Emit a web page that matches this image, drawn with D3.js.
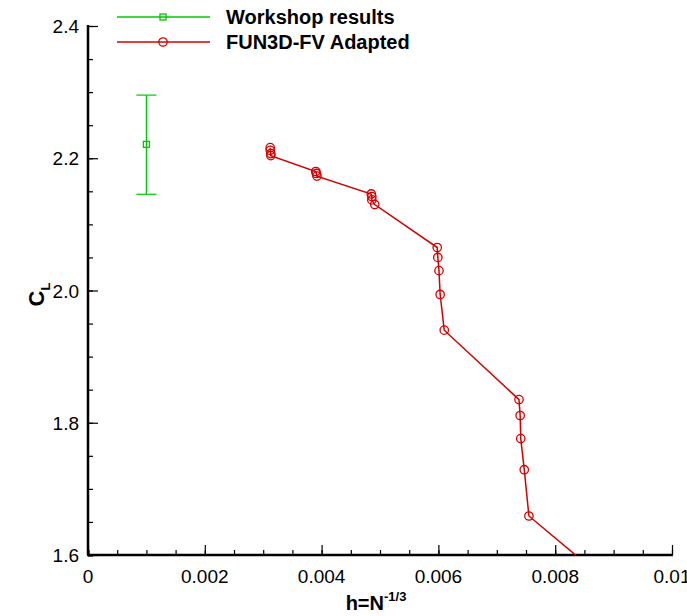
<!DOCTYPE html>
<html>
<head>
<meta charset="utf-8">
<script src="https://cdn.jsdelivr.net/npm/d3@7"></script>
<style>
	body { margin: 0; background: #fff; }
	text { font-family: "Liberation Sans", Arial, sans-serif; }
</style>
</head>
<body>
<div id="chart"></div>
<script>
//////////////////////////////
// DATA
//////////////////////////////

const adaptedH = [0.00312, 0.00312, 0.00313, 0.00313, 0.00390, 0.00391, 0.00392, 0.00485, 0.00486, 0.00486, 0.00491, 0.00598, 0.00599, 0.00601, 0.00603, 0.00610, 0.00738, 0.00740, 0.00741, 0.00747, 0.00755, 0.00970]
const adaptedCL = [2.216, 2.212, 2.207, 2.204, 2.180, 2.177, 2.173, 2.146, 2.142, 2.137, 2.130, 2.065, 2.050, 2.030, 1.994, 1.940, 1.835, 1.811, 1.776, 1.729, 1.659, 1.500]

const workshopH = [0.001]
const workshopCL = [2.221]
const workshopLow = [2.1455]
const workshopHigh = [2.2955]

const xTicks = [0, 0.002, 0.004, 0.006, 0.008, 0.01]
const xTickLabels = ["0", "0.002", "0.004", "0.006", "0.008", "0.01"]
const yTicks = [1.6, 1.8, 2.0, 2.2, 2.4]
const yTickLabels = ["1.6", "1.8", "2.0", "2.2", "2.4"]

//////////////////////////////
// CHART
//////////////////////////////

const red = "#d40000"
const green = "#00c800"

const width = 687
const height = 616
const margin = {left: 88, right: 15, top: 26, bottom: 61}

const x = d3.scaleLinear().domain([0, 0.01]).range([margin.left, width - margin.right])
const y = d3.scaleLinear().domain([1.6, 2.4]).range([height - margin.bottom, margin.top])

const svg = d3.select("#chart").append("svg").attr("width", width).attr("height", height)

svg.append("defs").append("clipPath").attr("id", "clip")
	.append("rect")
	.attr("x", margin.left).attr("y", margin.top)
	.attr("width", width - margin.left - margin.right)
	.attr("height", height - margin.top - margin.bottom)

// axes, ticks pointing inward
const xMinor = d3.range(0, 0.01 + 1e-9, 0.0005)
const yMinor = d3.range(1.6, 2.4 + 1e-9, 0.05)

const xAxis = d3.axisTop(x).tickValues(xMinor).tickSize(5).tickFormat("")
const xAxisMajor = d3.axisTop(x).tickValues(xTicks).tickSize(10).tickFormat("")
const yAxis = d3.axisRight(y).tickValues(yMinor).tickSize(5).tickFormat("")
const yAxisMajor = d3.axisRight(y).tickValues(yTicks).tickSize(10).tickFormat("")

const gx = svg.append("g").attr("transform", "translate(0," + y(1.6) + ")")
gx.call(xAxis)
gx.append("g").call(xAxisMajor)
const gy = svg.append("g").attr("transform", "translate(" + x(0) + ",0)")
gy.call(yAxis)
gy.append("g").call(yAxisMajor)

svg.selectAll(".domain").remove()
svg.selectAll(".tick line").attr("stroke", "#000").attr("stroke-width", 1.2)
gx.select("g").selectAll(".tick line").attr("stroke-width", 2.2)
gy.select("g").selectAll(".tick line").attr("stroke-width", 2.2)

svg.append("line")
	.attr("x1", x(0) - 1).attr("x2", x(0.01) + 1)
	.attr("y1", y(1.6)).attr("y2", y(1.6))
	.attr("stroke", "#000").attr("stroke-width", 2.5)
svg.append("line")
	.attr("x1", x(0)).attr("x2", x(0))
	.attr("y1", y(2.4) - 1).attr("y2", y(1.6))
	.attr("stroke", "#000").attr("stroke-width", 2.5)

// tick labels
svg.selectAll(".xlab").data(xTicks).enter().append("text")
	.attr("class", "xlab")
	.attr("x", (d) => x(d)).attr("y", y(1.6) + 28)
	.attr("text-anchor", "middle")
	.style("font-size", "19px")
	.text((d, i) => xTickLabels[i])

svg.selectAll(".ylab").data(yTicks).enter().append("text")
	.attr("class", "ylab")
	.attr("x", x(0) - 9).attr("y", (d) => y(d) + 7)
	.attr("text-anchor", "end")
	.style("font-size", "19px")
	.text((d, i) => yTickLabels[i])

// axis titles
const xt = svg.append("text")
	.attr("x", 376).attr("y", 610)
	.attr("text-anchor", "middle")
	.style("font-size", "20px").style("font-weight", "bold")
xt.append("tspan").text("h=N")
xt.append("tspan").attr("dy", -9).style("font-size", "13px").text("-1/3")

const yt = svg.append("text")
	.attr("transform", "translate(44," + (y(2.0) + 4) + ") rotate(-90)")
	.attr("text-anchor", "middle")
	.style("font-size", "22px").style("font-weight", "bold")
yt.append("tspan").text("C")
yt.append("tspan").attr("dy", 6).style("font-size", "13px").text("L")

// adapted series
const pts = adaptedH.map((h, i) => ({h: h, cl: adaptedCL[i]}))
const plot = svg.append("g").attr("clip-path", "url(#clip)")

plot.append("path")
	.datum(pts)
	.attr("d", d3.line().x((d) => x(d.h)).y((d) => y(d.cl)))
	.attr("fill", "none").attr("stroke", red).attr("stroke-width", 1.5)

plot.selectAll(".pt").data(pts).enter().append("circle")
	.attr("class", "pt")
	.attr("cx", (d) => x(d.h)).attr("cy", (d) => y(d.cl))
	.attr("r", 4.2)
	.attr("fill", "none").attr("stroke", red).attr("stroke-width", 1.3)

// workshop with error bar
workshopH.forEach((h, i) => {
	const cx = x(h)
	plot.append("line")
		.attr("x1", cx).attr("x2", cx)
		.attr("y1", y(workshopLow[i])).attr("y2", y(workshopHigh[i]))
		.attr("stroke", green).attr("stroke-width", 1.2)
	;[workshopLow[i], workshopHigh[i]].forEach((v) => {
		plot.append("line")
			.attr("x1", cx - 10).attr("x2", cx + 10)
			.attr("y1", y(v)).attr("y2", y(v))
			.attr("stroke", green).attr("stroke-width", 1.2)
	})
	plot.append("rect")
		.attr("x", cx - 3).attr("y", y(workshopCL[i]) - 3)
		.attr("width", 6).attr("height", 6)
		.attr("fill", "none").attr("stroke", green).attr("stroke-width", 1.3)
})

// legend
const legend = svg.append("g")
const lx1 = 117, lx2 = 210, lmid = 163

legend.append("line").attr("x1", lx1).attr("x2", lx2).attr("y1", 17).attr("y2", 17)
	.attr("stroke", green).attr("stroke-width", 1.5)
legend.append("rect").attr("x", lmid - 3).attr("y", 14).attr("width", 6).attr("height", 6)
	.attr("fill", "none").attr("stroke", green).attr("stroke-width", 1.3)
legend.append("text").attr("x", 226).attr("y", 24)
	.style("font-size", "20px").style("font-weight", "bold")
	.text("Workshop results")

legend.append("line").attr("x1", lx1).attr("x2", lx2).attr("y1", 42).attr("y2", 42)
	.attr("stroke", red).attr("stroke-width", 1.5)
legend.append("circle").attr("cx", lmid).attr("cy", 42).attr("r", 4.2)
	.attr("fill", "none").attr("stroke", red).attr("stroke-width", 1.3)
legend.append("text").attr("x", 226).attr("y", 49)
	.style("font-size", "20px").style("font-weight", "bold")
	.text("FUN3D-FV Adapted")
</script>
</body>
</html>
